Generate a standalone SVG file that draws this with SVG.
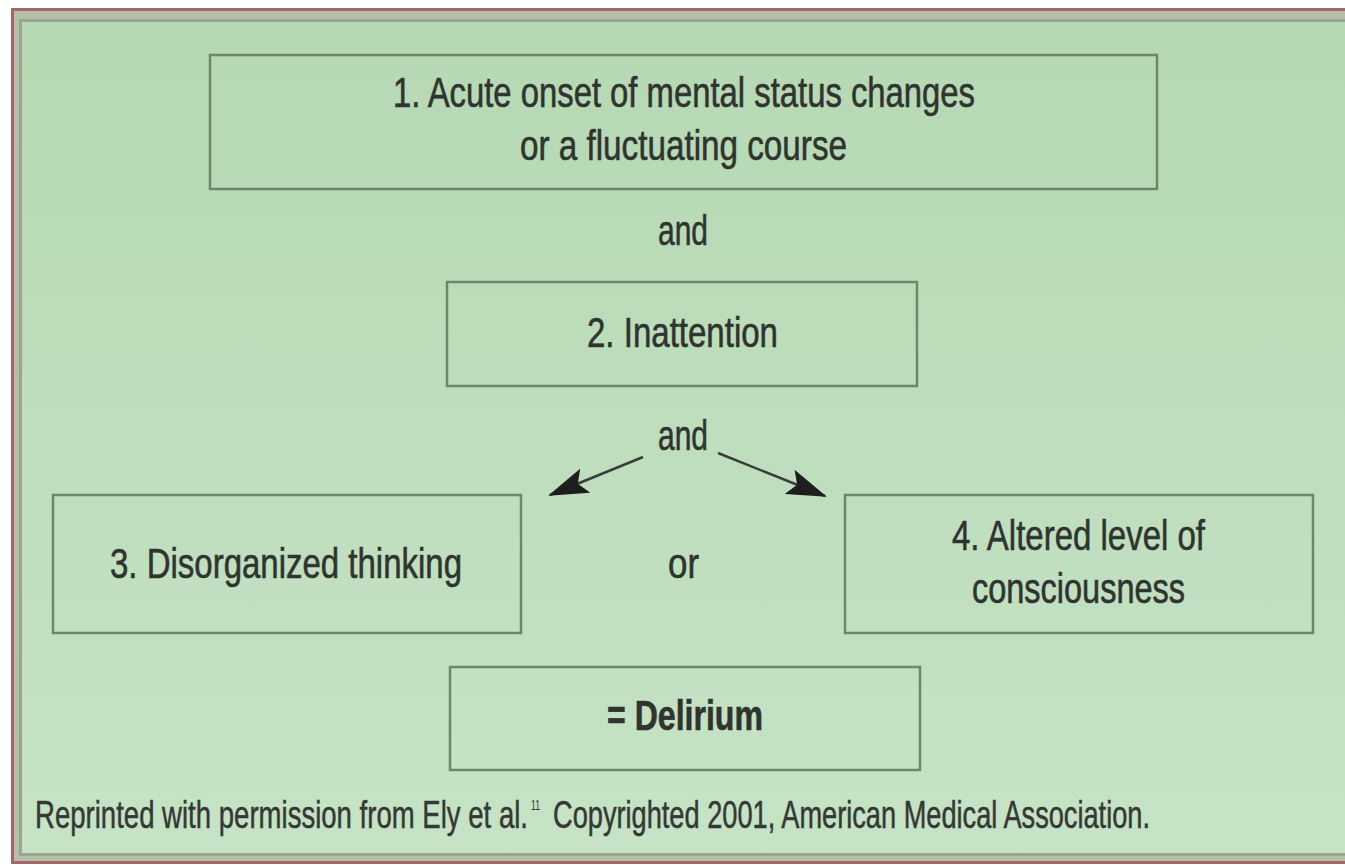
<svg xmlns="http://www.w3.org/2000/svg" width="1345" height="865" viewBox="0 0 1345 865">
<defs>
<linearGradient id="bg" x1="0" y1="0" x2="0" y2="1">
<stop offset="0" stop-color="#b6d8b3"/>
<stop offset="1" stop-color="#c6e3c6"/>
</linearGradient>
<marker id="ah" viewBox="0 0 40 26" refX="38" refY="13" markerWidth="40" markerHeight="26" markerUnits="userSpaceOnUse" orient="auto">
<path d="M0,0 L40,13 L0,26 L8,13 Z" fill="#1e1e1e"/>
</marker>
<style>
.box{fill:none;stroke:#6c8869;stroke-width:2.5}
.t{font-family:"Liberation Sans",Arial,sans-serif;font-size:42px;fill:#2f342f;stroke:#2f342f;stroke-width:0.6}
.b{font-weight:bold}
.f{font-family:"Liberation Sans",Arial,sans-serif;font-size:38px;fill:#343934;stroke:#343934;stroke-width:0.5}
.s{font-family:"Liberation Sans",Arial,sans-serif;font-size:15px;fill:#343934}
.arr{stroke:#3a3d3a;stroke-width:2.5;fill:none}
</style>
</defs>
<rect x="0" y="0" width="1345" height="865" fill="#ffffff"/>
<rect x="11" y="8" width="1345" height="856" fill="#a86565"/>
<rect x="14" y="11" width="1345" height="850" fill="#b3bfa9"/>
<rect x="19" y="19" width="1345" height="837" fill="#98a591"/>
<rect x="22" y="22" width="1345" height="831" fill="url(#bg)"/>

<g id="node1">
<rect class="box" x="210" y="55" width="947" height="134"/>
<text class="t" x="393" y="107" textLength="582" lengthAdjust="spacingAndGlyphs">1. Acute onset of mental status changes</text>
<text class="t" x="520" y="160" textLength="327" lengthAdjust="spacingAndGlyphs">or a fluctuating course</text>
</g>
<g id="and1">
<text class="t" x="658" y="245" textLength="50" lengthAdjust="spacingAndGlyphs">and</text>
</g>
<g id="node2">
<rect class="box" x="447" y="282" width="470" height="104"/>
<text class="t" x="587" y="347" textLength="191" lengthAdjust="spacingAndGlyphs">2. Inattention</text>
</g>
<g id="and2">
<text class="t" x="658" y="450" textLength="50" lengthAdjust="spacingAndGlyphs">and</text>
</g>
<g id="node3">
<rect class="box" x="53" y="495" width="468" height="138"/>
<text class="t" x="110" y="578" textLength="352" lengthAdjust="spacingAndGlyphs">3. Disorganized thinking</text>
</g>
<g id="or">
<text class="t" x="668" y="578" textLength="31" lengthAdjust="spacingAndGlyphs">or</text>
</g>
<g id="node4">
<rect class="box" x="845" y="495" width="468" height="138"/>
<text class="t" x="952" y="550" textLength="253" lengthAdjust="spacingAndGlyphs">4. Altered level of</text>
<text class="t" x="972" y="603" textLength="213" lengthAdjust="spacingAndGlyphs">consciousness</text>
</g>
<g id="node5">
<rect class="box" x="450" y="667" width="470" height="103"/>
<text class="t b" x="607" y="730" textLength="156" lengthAdjust="spacingAndGlyphs">= Delirium</text>
</g>
<g id="connectors">
<line class="arr" x1="643" y1="457" x2="550" y2="495" marker-end="url(#ah)"/>
<line class="arr" x1="718" y1="453" x2="825" y2="496" marker-end="url(#ah)"/>
</g>
<g id="footer">
<text class="f" x="35" y="828" textLength="493" lengthAdjust="spacingAndGlyphs">Reprinted with permission from Ely et al.</text>
<text class="s" x="531" y="810" textLength="9" lengthAdjust="spacingAndGlyphs">11</text>
<text class="f" x="553" y="828" textLength="597" lengthAdjust="spacingAndGlyphs">Copyrighted 2001, American Medical Association.</text>
</g>
</svg>
